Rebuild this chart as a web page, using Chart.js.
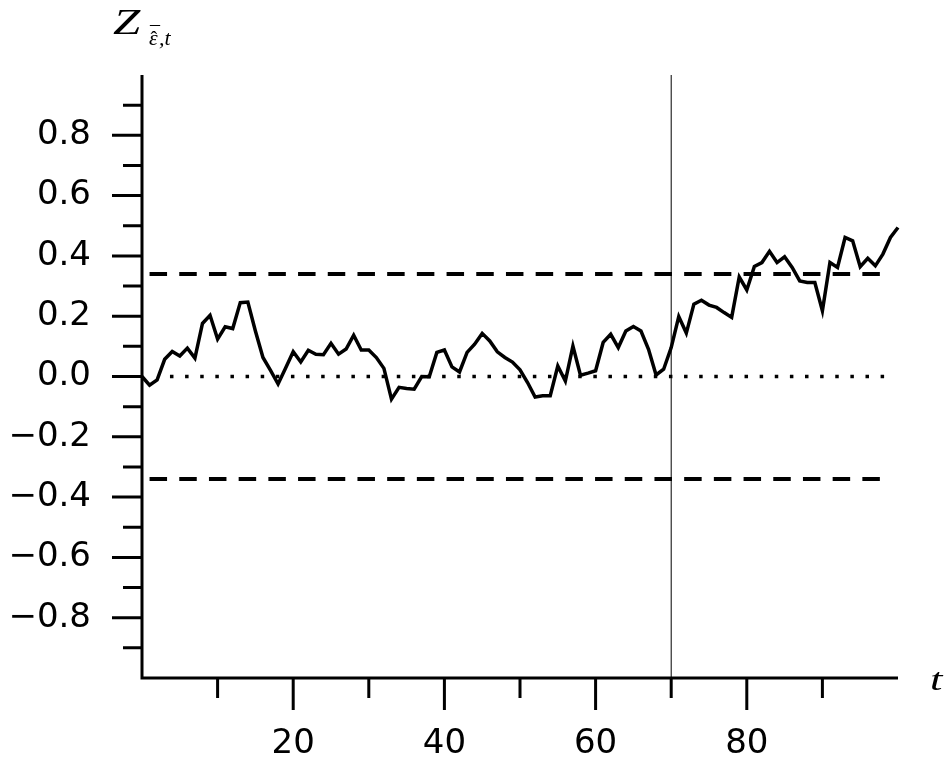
<!DOCTYPE html>
<html>
<head>
<meta charset="utf-8">
<script src="https://cdn.jsdelivr.net/npm/chart.js@4/dist/chart.umd.min.js"></script>
<style>
	html, body { margin: 0; padding: 0; background: #fff; }
	canvas { display: block; }
</style>
</head>
<body>
<canvas id="graficoZ" width="947" height="763"></canvas>
<script>
// valores, um por t = 0..100
var valoresZ = [
	0.000, -0.029, -0.011, 0.057, 0.083, 0.068, 0.094, 0.061, 0.176, 0.203,
	0.124, 0.165, 0.159, 0.245, 0.247, 0.151, 0.063, 0.020, -0.025, 0.028,
	0.082, 0.048, 0.087, 0.074, 0.072, 0.110, 0.074, 0.091, 0.137, 0.088,
	0.088, 0.063, 0.027, -0.075, -0.036, -0.040, -0.042, 0.000, -0.001, 0.080,
	0.088, 0.032, 0.015, 0.080, 0.107, 0.143, 0.118, 0.082, 0.063, 0.048,
	0.022, -0.020, -0.068, -0.064, -0.064, 0.035, -0.015, 0.101, 0.004, 0.011,
	0.019, 0.113, 0.140, 0.096, 0.151, 0.166, 0.151, 0.090, 0.005, 0.024,
	0.096, 0.199, 0.144, 0.240, 0.253, 0.237, 0.229, 0.212, 0.196, 0.330,
	0.287, 0.365, 0.378, 0.415, 0.378, 0.397, 0.362, 0.317, 0.312, 0.312,
	0.218, 0.378, 0.362, 0.461, 0.450, 0.364, 0.392, 0.367, 0.406, 0.461,
	0.494
];
var limiteSuperior = 0.34;
var limiteInferior = -0.34;
var inicioLimites = 1, fimLimites = 98.1;   // t onde comecam/terminam as tracejadas
var inicioZero = 3.7, fimZero = 98.3;       // linha pontilhada do zero
var tCorte = 70;                            // linha vertical

var rotulosX = [20, 40, 60, 80];
var marcasX = [10, 20, 30, 40, 50, 60, 70, 80, 90];
var rotulosY = [-0.8, -0.6, -0.4, -0.2, 0.0, 0.2, 0.4, 0.6, 0.8];
var marcasY = [-0.9, -0.8, -0.7, -0.6, -0.5, -0.4, -0.3, -0.2, -0.1, 0.0,
	0.1, 0.2, 0.3, 0.4, 0.5, 0.6, 0.7, 0.8, 0.9];

var pontosZ = valoresZ.map(function(v, i) { return {x: i, y: v}; });

// desenha eixos, marcas e os textos em italico
var eixosPlugin = {
	id: 'eixos',
	afterDraw: function(chart) {
		var ctx = chart.ctx;
		var sx = chart.scales.x, sy = chart.scales.y;
		var x0 = sx.getPixelForValue(0), x1 = sx.getPixelForValue(100);
		var y0 = sy.getPixelForValue(-1), y1 = sy.getPixelForValue(1);
		ctx.save();
		ctx.strokeStyle = '#000';
		ctx.lineWidth = 3;
		ctx.lineCap = 'butt';
		ctx.beginPath();
		ctx.moveTo(x0, y1); ctx.lineTo(x0, y0 + 1.5);
		ctx.moveTo(x0 - 1.5, y0); ctx.lineTo(x1, y0);
		marcasY.forEach(function(v) {
			var y = sy.getPixelForValue(v);
			var comp = rotulosY.some(function(r) { return Math.abs(r - v) < 1e-6; }) ? 30 : 19;
			ctx.moveTo(x0, y); ctx.lineTo(x0 - comp, y);
		});
		marcasX.forEach(function(v) {
			var x = sx.getPixelForValue(v);
			var comp = rotulosX.indexOf(v) >= 0 ? 32 : 20;
			ctx.moveTo(x, y0); ctx.lineTo(x, y0 + comp);
		});
		ctx.stroke();

		ctx.fillStyle = '#000';
		ctx.textBaseline = 'alphabetic';
		ctx.textAlign = 'left';
		// Z com indice
		ctx.save();
		ctx.translate(113, 33.5);
		ctx.scale(1.4, 1);
		ctx.font = 'italic 35px "Liberation Serif"';
		ctx.fillText('Z', 0, 0);
		ctx.restore();
		ctx.font = 'italic 22px "Liberation Serif"';
		ctx.fillText('\u03b5', 149, 45);
		ctx.fillText(',t', 159, 45);
		ctx.font = '20px "Liberation Serif"';
		ctx.fillText('\u02c6', 150.5, 45.5);
		ctx.fillText('\u00af', 150, 41);
		// t do eixo x
		ctx.save();
		ctx.translate(930, 690);
		ctx.scale(1.4, 1);
		ctx.font = 'italic 32px "Liberation Serif"';
		ctx.fillText('t', 0, 0);
		ctx.restore();
		ctx.restore();
	}
};

var grafico = new Chart(document.getElementById('graficoZ').getContext('2d'), {
	type: 'line',
	data: {
		datasets: [{
			data: pontosZ,
			borderColor: '#000',
			borderWidth: 3.5,
			pointRadius: 0,
			tension: 0,
			clip: false
		}, {
			data: [{x: inicioLimites, y: limiteSuperior}, {x: fimLimites, y: limiteSuperior}],
			borderColor: '#000',
			borderWidth: 4,
			borderDash: [17.5, 12.2],
			pointRadius: 0,
			clip: false
		}, {
			data: [{x: inicioLimites, y: limiteInferior}, {x: fimLimites, y: limiteInferior}],
			borderColor: '#000',
			borderWidth: 4,
			borderDash: [17.5, 12.2],
			pointRadius: 0,
			clip: false
		}, {
			data: [{x: inicioZero, y: 0}, {x: fimZero, y: 0}],
			borderColor: '#000',
			borderWidth: 3.5,
			borderDash: [3.5, 11.62],
			pointRadius: 0,
			clip: false
		}, {
			data: [{x: tCorte, y: -1}, {x: tCorte, y: 1}],
			borderColor: '#000',
			borderWidth: 1,
			pointRadius: 0,
			clip: false
		}]
	},
	options: {
		responsive: false,
		animation: false,
		devicePixelRatio: 1,
		layout: { padding: { top: 75, right: 49, left: 0, bottom: 0 } },
		plugins: { legend: { display: false }, tooltip: { enabled: false } },
		scales: {
			x: {
				type: 'linear',
				min: 0, max: 100,
				grid: { display: false, drawTicks: false },
				border: { display: false },
				afterBuildTicks: function(scale) {
					scale.ticks = rotulosX.map(function(v) { return {value: v}; });
				},
				afterFit: function(scale) { scale.height = 85; },
				ticks: {
					autoSkip: false, maxRotation: 0, padding: 46,
					color: '#000',
					font: { family: 'DejaVu Sans', size: 34 },
					callback: function(v) { return String(v); }
				}
			},
			y: {
				type: 'linear',
				min: -1, max: 1,
				grid: { display: false, drawTicks: false },
				border: { display: false },
				afterBuildTicks: function(scale) {
					scale.ticks = rotulosY.map(function(v) { return {value: v}; });
				},
				afterFit: function(scale) { scale.width = 142; },
				ticks: {
					autoSkip: false, padding: 51,
					color: '#000',
					font: { family: 'DejaVu Sans', size: 34 },
					callback: function(v) {
						return (v < 0 ? '\u2212' : '') + Math.abs(v).toFixed(1);
					}
				}
			}
		}
	},
	plugins: [eixosPlugin]
});
</script>
</body>
</html>
